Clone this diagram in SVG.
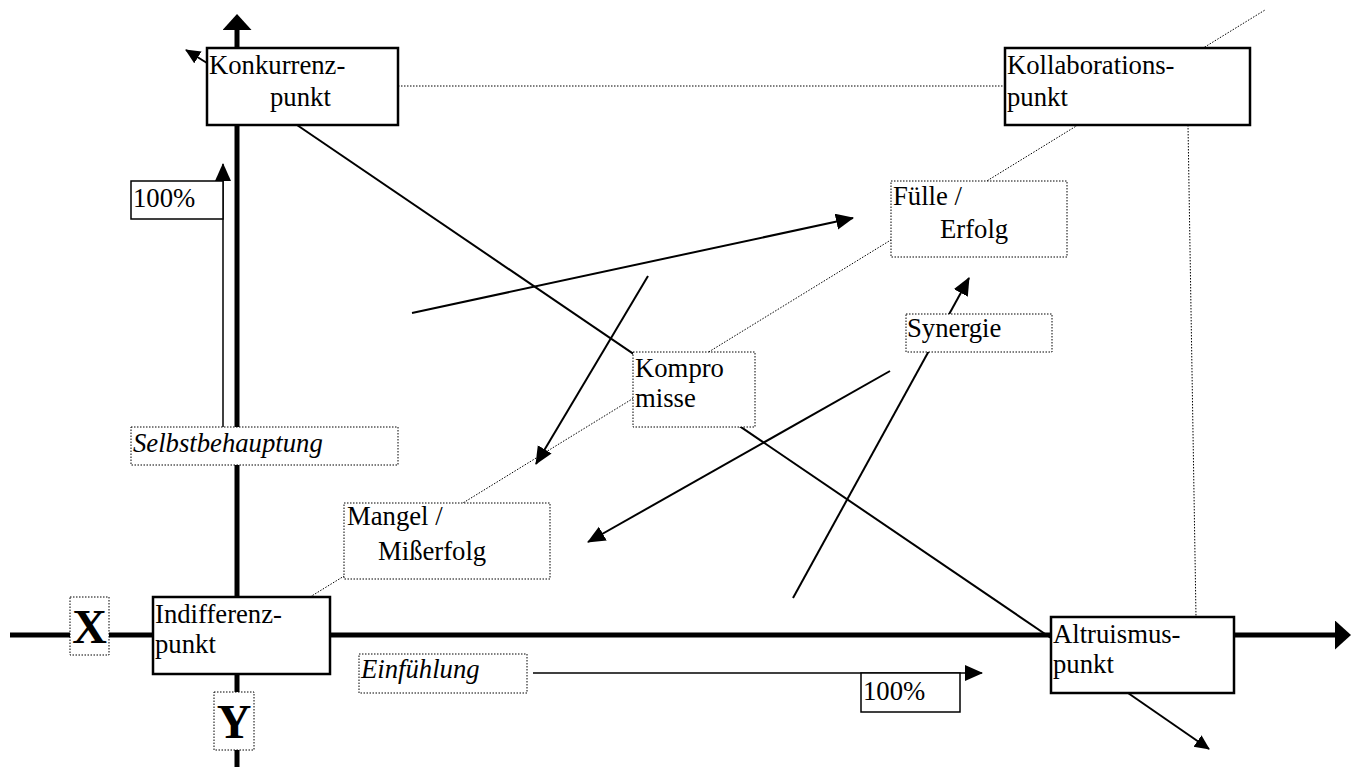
<svg xmlns="http://www.w3.org/2000/svg" width="1351" height="767" viewBox="0 0 1351 767">
<style>
text{font-family:"Liberation Serif","Times New Roman",serif;font-size:26.7px;fill:#000}
.it{font-style:italic}
.big{font-weight:bold;font-size:48px;text-anchor:middle}
.solid{fill:#fff;stroke:#000;stroke-width:2.5}
.thin{fill:#fff;stroke:#000;stroke-width:1.5}
.dot{fill:#fff;stroke:#000;stroke-width:1;stroke-dasharray:1.5 1.5}
.axis{stroke:#000;stroke-width:5;fill:none}
.ln{stroke:#000;stroke-width:2;fill:none}
.ln1{stroke:#000;stroke-width:1.5;fill:none}
.dl{stroke:#000;stroke-width:1;stroke-dasharray:1.5 1.5;fill:none}
</style>
<defs>
<marker id="ah" markerUnits="userSpaceOnUse" markerWidth="20" markerHeight="18" refX="17" refY="8" orient="auto">
<path d="M0,0 L18,8 L0,16 z" fill="#000"/>
</marker>
<marker id="ahs" markerUnits="userSpaceOnUse" markerWidth="16" markerHeight="16" refX="14" refY="7" orient="auto">
<path d="M0,0 L15,7 L0,14 z" fill="#000"/>
</marker>
<marker id="ahx" markerUnits="userSpaceOnUse" markerWidth="20" markerHeight="30" refX="1" refY="14.5" orient="auto">
<path d="M0,0 L16,14.5 L0,29 z" fill="#000"/>
</marker>
</defs>
<g id="connectors">
<line class="axis" x1="237" y1="767" x2="237" y2="29" marker-end="url(#ahx)"/>
<line class="axis" x1="10" y1="635" x2="1336" y2="635" marker-end="url(#ahx)"/>
<line class="dl" x1="398" y1="86" x2="1005" y2="86"/>
<line class="dl" x1="1188" y1="125" x2="1196" y2="617"/>
<line class="dl" x1="310" y1="597" x2="1265" y2="10"/>
<line class="ln" x1="297" y1="125" x2="1051" y2="638"/>
<line class="ln" x1="207" y1="63" x2="186" y2="50" marker-end="url(#ahs)"/>
<line class="ln" x1="1128" y1="693" x2="1209" y2="749" marker-end="url(#ahs)"/>
<line class="ln" x1="412" y1="313" x2="853" y2="218" marker-end="url(#ah)"/>
<line class="ln" x1="648" y1="276" x2="536" y2="464" marker-end="url(#ah)"/>
<line class="ln" x1="890" y1="371" x2="588" y2="542" marker-end="url(#ah)"/>
<line class="ln" x1="793" y1="598" x2="969" y2="278" marker-end="url(#ah)"/>
<line class="ln1" x1="223" y1="427" x2="223" y2="164" marker-end="url(#ah)"/>
<line class="ln1" x1="533" y1="673" x2="982" y2="673" marker-end="url(#ah)"/>
</g>
<g id="konkurrenz"><rect class="solid" x="207" y="48" width="191" height="77"/><text x="209" y="74">Konkurrenz-</text><text x="270" y="106">punkt</text></g>
<g id="kollaboration"><rect class="solid" x="1005" y="48" width="245" height="77"/><text x="1007" y="74">Kollaborations-</text><text x="1007" y="106">punkt</text></g>
<g id="indifferenz"><rect class="solid" x="153" y="597" width="177" height="77"/><text x="155" y="623">Indifferenz-</text><text x="155" y="653">punkt</text></g>
<g id="altruismus"><rect class="solid" x="1051" y="617" width="183" height="76"/><text x="1053" y="643">Altruismus-</text><text x="1053" y="673">punkt</text></g>
<g id="fuelle"><rect class="dot" x="891" y="181" width="176" height="76"/><text x="893" y="205">Fülle /</text><text x="940" y="238">Erfolg</text></g>
<g id="synergie"><rect class="dot" x="906" y="314" width="146" height="38"/><text x="907" y="337">Synergie</text></g>
<g id="kompromisse"><rect class="dot" x="633" y="352" width="122" height="75"/><text x="635" y="377">Kompro</text><text x="635" y="407">misse</text></g>
<g id="mangel"><rect class="dot" x="344" y="503" width="206" height="76"/><text x="347" y="525">Mangel /</text><text x="378" y="560">Mißerfolg</text></g>
<g id="selbst"><rect class="dot" x="131" y="427" width="267" height="38"/><text class="it" x="133" y="452">Selbstbehauptung</text></g>
<g id="pct-y"><rect class="thin" x="131" y="181" width="92" height="38"/><text x="133" y="207">100%</text></g>
<g id="einfuehlung"><rect class="dot" x="359" y="654" width="168" height="39"/><text class="it" x="361" y="678">Einfühlung</text></g>
<g id="pct-x"><rect class="thin" x="861" y="673" width="99" height="39"/><text x="863" y="700">100%</text></g>
<g id="xlabel"><rect class="dot" x="70" y="597" width="39" height="58"/><text class="big" x="89.5" y="643">X</text></g>
<g id="ylabel"><rect class="dot" x="214" y="692" width="40" height="58"/><text class="big" x="234" y="738">Y</text></g>
</svg>
